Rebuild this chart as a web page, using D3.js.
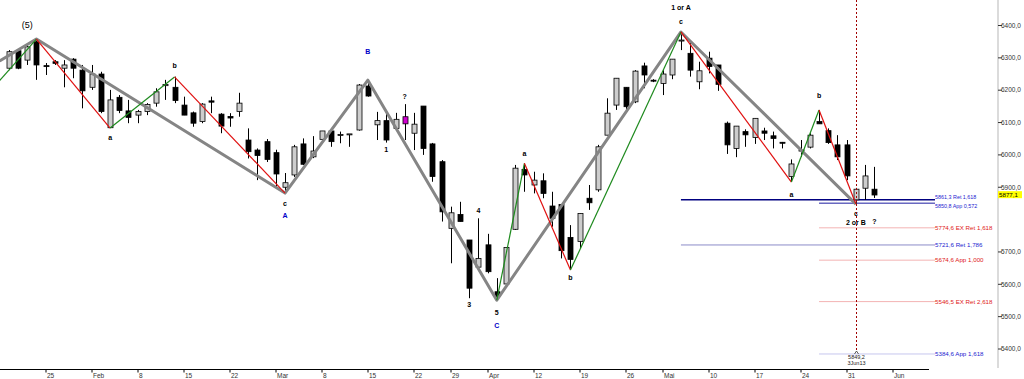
<!DOCTYPE html>
<html>
<head>
<meta charset="utf-8">
<script src="https://cdn.jsdelivr.net/npm/d3@7"></script>
<style>
    body { margin: 0; background: #fff; }
    svg { display: block; font-family: "Liberation Sans", Arial, sans-serif; }
</style>
</head>
<body>
<svg role="chart" width="1024" height="379"></svg>
<script>
// daily candles, one entry per trading day
var opens = [6268, 6322, 6293, 6350, 6276, 6288, 6268, 6296, 6262, 6209,
    6250, 6084, 6178, 6136, 6123, 6134, 6160, 6214, 6209, 6154,
    6130, 6103, 6167, 6126, 6119, 6134, 6046, 6015, 6041, 6007,
    5900, 5938, 6034, 5994, 6048, 6074, 6060, 6064, 6077, 6213,
    6093, 6106, 6082, 6118, 6067, 6151, 6034, 5979, 5773, 5816,
    5737, 5653, 5722, 5577, 5601, 5770, 5955, 5907, 5920, 5842,
    5847, 5745, 5732, 5866, 5892, 6061, 6154, 6209, 6164, 6275,
    6231, 6221, 6247, 6352, 6314, 6226, 6299, 6278, 6098, 6020,
    6072, 6054, 6074, 6059, 6039, 5933, 6015, 6024, 6103, 6075,
    6031, 6031, 5861, 5897, 5894];
var highs = [6324, 6327, 6340, 6358, 6284, 6293, 6293, 6299, 6278, 6278,
    6257, 6201, 6185, 6170, 6139, 6160, 6206, 6232, 6242, 6180,
    6134, 6160, 6180, 6129, 6129, 6192, 6082, 6020, 6049, 6016,
    5944, 6031, 6051, 6058, 6074, 6082, 6072, 6064, 6219, 6232,
    6133, 6134, 6130, 6157, 6130, 6151, 6037, 5984, 5840, 5855,
    5737, 5804, 5756, 5619, 5714, 5969, 5974, 5948, 5943, 5886,
    5847, 5783, 5819, 5907, 6031, 6175, 6237, 6209, 6262, 6285,
    6234, 6262, 6296, 6378, 6355, 6288, 6319, 6278, 6103, 6089,
    6079, 6113, 6084, 6072, 6040, 5986, 6046, 6067, 6139, 6082,
    6061, 6046, 5898, 5969, 5963];
var lows = [6262, 6265, 6278, 6232, 6247, 6278, 6209, 6237, 6144, 6201,
    6129, 6083, 6129, 6098, 6098, 6123, 6149, 6170, 6160, 6123,
    6087, 6098, 6129, 6067, 6087, 6118, 5989, 5922, 5978, 5895,
    5881, 5932, 5969, 5990, 6048, 6025, 6036, 6025, 6075, 6180,
    6046, 6038, 6077, 6046, 6015, 6000, 5917, 5794, 5665, 5794,
    5557, 5644, 5634, 5550, 5601, 5768, 5886, 5881, 5866, 5778,
    5680, 5644, 5711, 5830, 5886, 6061, 6139, 6139, 6160, 6206,
    6225, 6185, 6234, 6324, 6242, 6203, 6252, 6198, 6003, 5993,
    6025, 6034, 6046, 6020, 6020, 5917, 5994, 6020, 6096, 6034,
    5984, 5922, 5848, 5861, 5867];
var closes = [6319, 6268, 6334, 6278, 6273, 6283, 6278, 6268, 6198, 6250,
    6134, 6170, 6137, 6116, 6134, 6156, 6195, 6218, 6168, 6123,
    6098, 6157, 6163, 6089, 6114, 6160, 6010, 5998, 5986, 5941,
    5914, 6025, 5971, 6012, 6074, 6041, 6063, 6065, 6216, 6182,
    6106, 6046, 6110, 6096, 6095, 6020, 5933, 5824, 5821, 5794,
    5588, 5680, 5639, 5562, 5714, 5959, 5938, 5922, 5881, 5804,
    5704, 5677, 5819, 5852, 6025, 6129, 6237, 6149, 6259, 6247,
    6228, 6250, 6296, 6355, 6262, 6260, 6273, 6218, 6031, 6089,
    6062, 6113, 6067, 6051, 6038, 5972, 6012, 6061, 6096, 6038,
    5994, 5935, 5894, 5935, 5876];
var markedCandle = 43; // the magenta one under the "?"

// date axis: tick at day index, label
var dateTickIdx = [4, 9, 14, 19, 24, 29, 34, 39, 44, 48, 52, 57, 62, 67, 71, 76, 81, 86, 91, 96];
var dateTickLabels = ["25", "Feb", "8", "15", "22", "Mar", "8", "15", "22", "29", "Apr",
    "12", "19", "26", "Mai", "10", "17", "24", "31", "Jun"];
var priceTicks = [6400, 6300, 6200, 6100, 6000, 5900, 5700, 5600, 5500, 5400];

// main wave (gray) and sub waves (red down / green up): [day index, price]
var mainWave = [[-1, 6290], [3, 6358], [30, 5882], [39, 6231], [53, 5551], [73, 6380], [92, 5848]];
var subWaveLeft = [[-1, 6230], [3, 6358], [11, 6083], [18, 6241], [30, 5882]];
var subWaveRight = [[53, 5551], [56, 5974], [61, 5644], [73, 6380], [85, 5916], [88, 6139], [92, 5848]];

// wave labels: text, day index, price, colour
var waveLabels = [
    ["(5)", 2, 6401, "#000"], ["a", 11, 6055, "#000"], ["b", 18, 6275, "#000"],
    ["c", 30, 5851, "#000"], ["A", 30, 5814, "#0000c8"], ["B", 39, 6321, "#0000c8"],
    ["?", 43, 6179, "#000"], ["1", 41, 6015, "#000"], ["3", 50, 5536, "#000"],
    ["4", 51, 5827, "#000"], ["5", 53, 5514, "#000"], ["C", 53, 5474, "#0000c8"],
    ["a", 56, 6003, "#000"], ["b", 61, 5620, "#000"], ["1 or A", 73, 6457, "#000"],
    ["c", 73, 6411, "#000"], ["a", 85, 5876, "#000"], ["b", 88, 6182, "#000"],
    ["c", 92, 5820, "#000"], ["2 or B", 92, 5790, "#000"], ["?", 94, 5793, "#000"]
];

// fibonacci levels
var levelPrices = [5861.3, 5850.8, 5774.6, 5721.6, 5674.6, 5546.5, 5384.6];
var levelTexts = ["5861,3 Ret 1,618", "5850,8 App 0,572", "5774,6 EX Ret 1,618",
    "5721,6 Ret 1,786", "5674,6 App 1,000", "5546,5 EX Ret 2,618", "5384,6 App 1,618"];
var levelFrom = [73, 88, 88, 73, 88, 88, 88];

var lastPrice = "5877,1", lastPriceValue = 5877.1;
var cursorIdx = 92, cursorText = ["5849,2", "3Jun13"];

var svg = d3.select('[role="chart"]');
var x = d3.scaleLinear().domain([0, 96]).range([8.8, 892.7]);
var y = d3.scaleLinear().domain([5400, 6400]).range([349, 25.5]);
var fmt = function (v) { return d3.format(".1f")(v).replace(".", ","); };

svg.append('defs').append('clipPath').attr('id', 'plot')
    .append('rect').attr('x', 0).attr('y', 0).attr('width', 997).attr('height', 369);

// right price axis
svg.append('line').attr('x1', 998).attr('x2', 998).attr('y1', 0).attr('y2', 368)
    .attr('stroke', '#cfcfcf').attr('stroke-width', 1.5);
var pt = svg.append('g').selectAll('g').data(priceTicks).enter().append('g')
    .attr('transform', function (d) { return 'translate(998,' + y(d) + ')'; });
pt.append('line').attr('x1', 0).attr('x2', 4).attr('stroke', '#333');
pt.append('text').attr('x', 3).attr('dy', '0.35em').attr('font-size', 6.5).attr('fill', '#333')
    .text(function (d) { return fmt(d); });

// bottom date axis
svg.append('line').attr('x1', 0).attr('x2', 929).attr('y1', 369.5).attr('y2', 369.5).attr('stroke', '#000');
var dt = svg.append('g').selectAll('g').data(dateTickIdx).enter().append('g')
    .attr('transform', function (d) { return 'translate(' + Math.round(x(d)) + ',369.5)'; });
dt.append('line').attr('y1', 0).attr('y2', 3).attr('stroke', '#000');
dt.append('text').attr('x', 1).attr('y', 8).attr('font-size', 6.5).attr('fill', '#333')
    .text(function (d, i) { return dateTickLabels[i]; });

var plot = svg.append('g').attr('clip-path', 'url(#plot)');

// level lines
var lv = plot.append('g').selectAll('g').data(levelPrices).enter().append('g');
lv.append('line')
    .attr('x1', function (d, i) { return x(levelFrom[i]); }).attr('x2', 935)
    .attr('y1', function (d) { return y(d); }).attr('y2', function (d) { return y(d); })
    .attr('stroke', function (d, i) {
        return ["#000080", "#1c1ca0", "#f3b3b3", "#8c8cc8", "#f3b3b3", "#f3b3b3", "#c6c6ee"][i];
    })
    .attr('stroke-width', function (d, i) { return i == 0 ? 1.6 : 1; });
// the two top labels sit almost on each other, spread them a bit
lv.append('text').attr('x', 935)
    .attr('y', function (d, i) { return y(d) + (i == 0 ? -2.2 : i == 1 ? 2.6 : 0); })
    .attr('dy', '0.35em')
    .attr('font-size', function (d, i) { return i < 2 ? 5.4 : 6.2; })
    .attr('fill', function (d, i) { return [0, 1, 3, 6].indexOf(i) > -1 ? '#2424d0' : '#e02020'; })
    .text(function (d, i) { return levelTexts[i]; });

// candles
var candles = plot.append('g').selectAll('g').data(opens).enter().append('g');
function candleColor(i) {
    if (i == markedCandle) return '#d000d0';
    return closes[i] >= opens[i] ? '#777' : '#000';
}
candles.append('line')
    .attr('x1', function (d, i) { return Math.round(x(i)) + 0.5; })
    .attr('x2', function (d, i) { return Math.round(x(i)) + 0.5; })
    .attr('y1', function (d, i) { return y(highs[i]); })
    .attr('y2', function (d, i) { return y(lows[i]); })
    .attr('stroke', candleColor);
candles.append('rect')
    .attr('x', function (d, i) { return Math.round(x(i)) - 2; })
    .attr('width', 5)
    .attr('y', function (d, i) { return y(Math.max(opens[i], closes[i])); })
    .attr('height', function (d, i) { return Math.max(1, Math.abs(y(opens[i]) - y(closes[i]))); })
    .attr('fill', function (d, i) {
        if (i == markedCandle) return '#d000d0';
        return closes[i] >= opens[i] ? '#cdcdcd' : '#000';
    })
    .attr('stroke', candleColor)
    .attr('stroke-width', 0.8);

// waves
var line = d3.line().x(function (d) { return x(d[0]); }).y(function (d) { return y(d[1]); });
plot.append('path').datum(mainWave).attr('d', line)
    .attr('fill', 'none').attr('stroke', '#858585').attr('stroke-width', 3).attr('stroke-linejoin', 'round');

function drawSubWave(pts) {
    var segs = d3.pairs(pts);
    plot.append('g').selectAll('line').data(segs).enter().append('line')
        .attr('x1', function (d) { return x(d[0][0]); }).attr('y1', function (d) { return y(d[0][1]); })
        .attr('x2', function (d) { return x(d[1][0]); }).attr('y2', function (d) { return y(d[1][1]); })
        .attr('stroke', function (d) { return d[1][1] > d[0][1] ? '#1e8a1e' : '#e01010'; })
        .attr('stroke-width', 1.2);
}
drawSubWave(subWaveLeft);
drawSubWave(subWaveRight);

// wave labels
svg.append('g').selectAll('text').data(waveLabels).enter().append('text')
    .attr('x', function (d) { return x(d[1]); })
    .attr('y', function (d) { return y(d[2]); })
    .attr('dy', '0.35em')
    .attr('text-anchor', 'middle')
    .attr('font-size', function (d) { return d[0] == '(5)' ? 9 : 7; })
    .attr('font-weight', function (d) { return d[0] == '(5)' ? 'normal' : 'bold'; })
    .attr('fill', function (d) { return d[3]; })
    .text(function (d) { return d[0]; });

// cursor line
var cx = Math.round(x(cursorIdx)) + 0.5;
svg.append('line').attr('x1', cx).attr('x2', cx).attr('y1', 0).attr('y2', 352)
    .attr('stroke', '#a00000').attr('stroke-dasharray', '2,2');
svg.append('path').attr('d', 'M' + (cx - 2) + ',354 L' + cx + ',351 L' + (cx + 2) + ',354')
    .attr('fill', 'none').attr('stroke', '#333').attr('stroke-width', 0.8);
svg.append('g').selectAll('text').data(cursorText).enter().append('text')
    .attr('x', cx).attr('y', function (d, i) { return 359 + i * 6; })
    .attr('text-anchor', 'middle').attr('font-size', 5.5).attr('fill', '#222')
    .text(function (d) { return d; });

// last price tag
svg.append('rect').attr('x', 998).attr('y', y(lastPriceValue) - 3.5).attr('width', 24).attr('height', 7)
    .attr('fill', '#ffff00');
svg.append('text').attr('x', 999).attr('y', y(lastPriceValue)).attr('dy', '0.35em')
    .attr('font-size', 6.2).attr('fill', '#000').text(lastPrice);
</script>
</body>
</html>
